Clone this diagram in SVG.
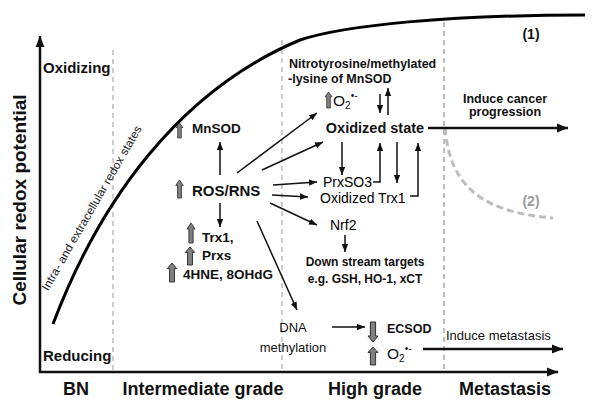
<svg xmlns="http://www.w3.org/2000/svg" width="600" height="409" viewBox="0 0 600 409">
<style>
text{font-family:"Liberation Sans",Arial,sans-serif;fill:#111}
.b{font-weight:bold}
.dash{stroke:#bdbdbd;stroke-width:1.5;stroke-dasharray:5,4;fill:none}
.c{stroke:#111;stroke-width:1.5;fill:none;marker-end:url(#ah)}
.cl{stroke:#111;stroke-width:2.5;fill:none;marker-end:url(#ahL)}
.ga{fill:#808080;stroke:#2a2a2a;stroke-width:1;vector-effect:non-scaling-stroke}
</style>
<defs>
<marker id="ah" viewBox="0 0 10 10" refX="10" refY="5" markerUnits="userSpaceOnUse" markerWidth="8" markerHeight="8" orient="auto"><path d="M0,1 L10,5 L0,9 Z" fill="#111"/></marker>
<marker id="ahL" viewBox="0 0 10 10" refX="10" refY="5" markerUnits="userSpaceOnUse" markerWidth="12" markerHeight="11" orient="auto"><path d="M0,1 L10,5 L0,9 Z" fill="#111"/></marker>
<path id="ga" d="M0,-10 L5,-4 L2.6,-4 L2.6,10 L-2.6,10 L-2.6,-4 L-5,-4 Z"/>
</defs>
<rect width="600" height="409" fill="#fff"/>
<g id="background">
<line class="dash" x1="113" y1="50" x2="113" y2="372"/>
<line class="dash" x1="282" y1="40" x2="282" y2="372"/>
<line class="dash" x1="444" y1="22" x2="444" y2="372" style="stroke-width:2"/>
<path d="M53,324 C100,200 180,90 300,40 C345,25 450,15 585,15" fill="none" stroke="#000" stroke-width="3"/>
<path d="M445,128 C450,185 480,212 553,218" fill="none" stroke="#bdbdbd" stroke-width="3" stroke-dasharray="7,4"/>
<text x="95" y="210" font-size="11.5" text-anchor="middle" textLength="188" lengthAdjust="spacingAndGlyphs" transform="rotate(-60 95 210)" style="fill:#222">Intra- and extracellular redox states</text>
<text class="b" x="531" y="39" font-size="14" text-anchor="middle">(1)</text>
<text class="b" x="531" y="206" font-size="14" text-anchor="middle" style="fill:#9a9a9a">(2)</text>
</g>
<g id="axes">
<line class="cl" x1="40" y1="373" x2="40" y2="36"/>
<line class="cl" x1="39" y1="372" x2="558" y2="372"/>
<text class="b" x="20" y="200" font-size="19" text-anchor="middle" transform="rotate(-90 20 200)" dy="6">Cellular redox potential</text>
<text class="b" x="43" y="73" font-size="15">Oxidizing</text>
<text class="b" x="43" y="361" font-size="15">Reducing</text>
<text class="b" x="76" y="395" font-size="18" text-anchor="middle">BN</text>
<text class="b" x="203" y="395" font-size="18" text-anchor="middle">Intermediate grade</text>
<text class="b" x="375" y="395" font-size="18" text-anchor="middle">High grade</text>
<text class="b" x="505" y="395" font-size="18" text-anchor="middle">Metastasis</text>
</g>
<g id="connectors">
<path class="c" d="M220,175 L220,142"/>
<path class="c" d="M220,203 L220,227"/>
<path class="c" d="M237,173 L317,113"/>
<path class="c" d="M262,170 L323,142"/>
<path class="c" d="M273,185 L317,182"/>
<path class="c" d="M272,195 L308,197"/>
<path class="c" d="M270,203 L317,225"/>
<path class="c" d="M257,221 L297,310"/>
<path class="c" d="M380,94 L380,113"/>
<path class="c" d="M388,115 L388,88"/>
<path class="c" d="M342,142 L342,175"/>
<path class="c" d="M373,182 L380,182 L380,143"/>
<path class="c" d="M397,142 L397,183"/>
<path class="c" d="M410,196 L418,196 L418,143"/>
<path class="c" d="M345,235 L345,252"/>
<path class="c" d="M332,327 L365,327"/>
<path class="cl" d="M428,128 L568,128"/>
<path class="cl" d="M423,349 L563,349"/>
</g>
<g id="mnsod">
<use href="#ga" class="ga" transform="translate(179.5,130.5) scale(0.7,0.75)"/>
<text class="b" x="192" y="133" font-size="13.5">MnSOD</text>
</g>
<g id="ros">
<use href="#ga" class="ga" transform="translate(179.5,189) scale(0.75,0.9)"/>
<text class="b" x="192" y="196" font-size="15">ROS/RNS</text>
</g>
<g id="trx1">
<use href="#ga" class="ga" transform="translate(191,233) scale(0.8,1)"/>
<text class="b" x="202" y="242" font-size="13.5">Trx1,</text>
</g>
<g id="prxs">
<use href="#ga" class="ga" transform="translate(190,256) scale(0.95,0.9)"/>
<text class="b" x="202" y="260" font-size="13.5">Prxs</text>
</g>
<g id="hne">
<use href="#ga" class="ga" transform="translate(172,272.5) scale(0.95,0.95)"/>
<text class="b" x="183" y="279" font-size="13.5">4HNE, 8OHdG</text>
</g>
<g id="nitro">
<text class="b" x="289" y="68" font-size="12.5">Nitrotyrosine/methylated</text>
<text class="b" x="288" y="83" font-size="12.5">-lysine of MnSOD</text>
</g>
<g id="o2top">
<use href="#ga" class="ga" transform="translate(328.5,100) scale(0.7,0.8)"/>
<text x="333" y="106" font-size="15.5">O<tspan font-size="10" dy="3">2</tspan><tspan font-size="10" dy="-10">•-</tspan></text>
</g>
<g id="oxstate">
<text class="b" x="375" y="133" font-size="14.5" text-anchor="middle">Oxidized state</text>
</g>
<g id="progression">
<text class="b" x="505" y="103" font-size="12.5" text-anchor="middle">Induce cancer</text>
<text class="b" x="505" y="116" font-size="12.5" text-anchor="middle">progression</text>
</g>
<g id="prxso3"><text x="323" y="187" font-size="14" style="fill:#000">PrxSO3</text></g>
<g id="oxtrx1"><text x="320" y="203" font-size="14" style="fill:#000">Oxidized Trx1</text></g>
<g id="nrf2"><text x="330" y="230" font-size="14" style="fill:#000">Nrf2</text></g>
<g id="downstream">
<text class="b" x="365" y="266" font-size="12" text-anchor="middle">Down stream targets</text>
<text class="b" x="365" y="283" font-size="12" text-anchor="middle">e.g. GSH, HO-1, xCT</text>
</g>
<g id="dna">
<text x="293" y="332" font-size="13" text-anchor="middle">DNA</text>
<text x="293" y="352" font-size="13" text-anchor="middle">methylation</text>
</g>
<g id="ecsod">
<use href="#ga" class="ga" transform="translate(373,332) scale(1,-1)"/>
<text class="b" x="387" y="333" font-size="12.5">ECSOD</text>
</g>
<g id="o2bottom">
<use href="#ga" class="ga" transform="translate(373,356) scale(1,0.9)"/>
<text x="387" y="359" font-size="15.5">O<tspan font-size="10" dy="3">2</tspan><tspan font-size="10" dy="-10">•-</tspan></text>
</g>
<g id="metastasis">
<text x="446" y="340" font-size="13">Induce metastasis</text>
</g>
</svg>
